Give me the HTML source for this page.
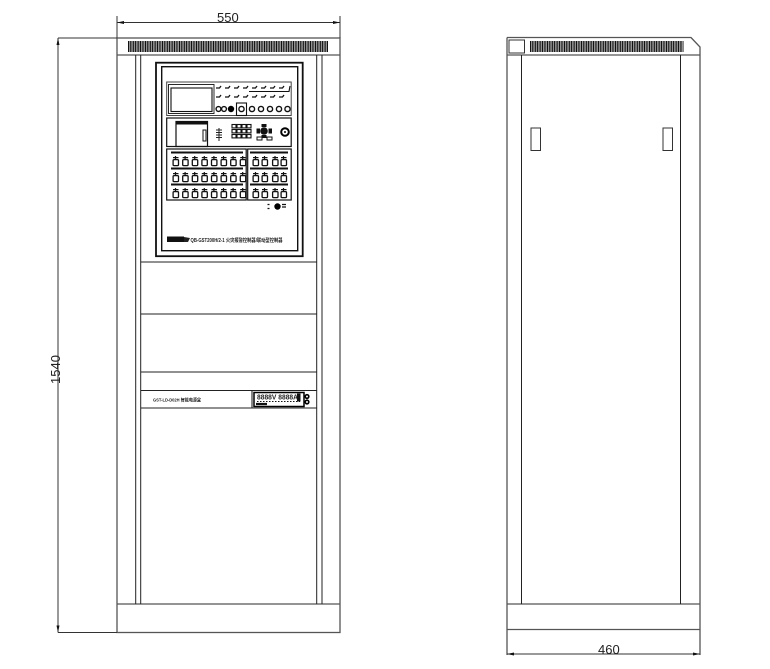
<!DOCTYPE html>
<html><head><meta charset="utf-8"><style>
html,body{margin:0;padding:0;background:#fff;width:770px;height:669px;overflow:hidden}
svg{display:block}
text{font-family:"Liberation Sans","Noto Sans CJK SC",sans-serif;fill:#222}
</style></head><body>
<svg width="770" height="669" viewBox="0 0 770 669" xmlns="http://www.w3.org/2000/svg">
<defs>
<g id="c" fill="none" stroke="#111" stroke-width="1.3"><rect x="0.6" y="3.6" width="5.4" height="6" rx="1"/><path d="M0.5 1.6H6M3 0V3" stroke-width="1.2"/></g>
<g id="r8"><use href="#c"/><use href="#c" x="9.6"/><use href="#c" x="19.2"/><use href="#c" x="28.8"/><use href="#c" x="38.4"/><use href="#c" x="48"/><use href="#c" x="57.6"/><use href="#c" x="67.2"/></g>
<g id="r4"><use href="#c"/><use href="#c" x="9"/><use href="#c" x="19.5"/><use href="#c" x="28"/></g>
<g id="t"><path d="M0 2H3.5L5 0" fill="none" stroke="#111" stroke-width="1.3"/></g>
<g id="k" fill="none" stroke="#111" stroke-width="1.1"><rect x="0" y="0" width="4" height="3.4"/><rect x="5" y="0" width="4" height="3.4"/><rect x="10" y="0" width="4" height="3.4"/><rect x="15" y="0" width="4" height="3.4"/></g>
</defs>

<g fill="none" stroke="#555" stroke-width="1">
<rect x="117" y="38" width="223" height="594.5" stroke-width="1.3"/>
<path d="M117 55H340M117 604H340" stroke-width="1.3"/>
<path d="M135.7 55V604M140.7 55V604M316.7 55V604M322 55V604" stroke="#222"/>
<path d="M140.7 262H316.7M140.7 314H316.7M140.7 372H316.7M140.7 390.5H316.7M140.7 408H316.7" stroke="#222"/>
<path d="M117 16V38M340 16V38M117 22.5H340M58 38H117M58 38V632.5M58 632.5H117" stroke="#333"/>
</g>
<path d="M117 22.5l7-1.5v3zM340 22.5l-7-1.5v3zM58 38l-1.5 7h3zM58 632.5l-1.5-7h3z" fill="#111"/>
<line x1="128" y1="46.5" x2="328" y2="46.5" stroke="#111" stroke-width="11" stroke-dasharray="1.15 0.55"/>
<text x="217" y="22" font-size="13" fill="#333">550</text>
<text transform="translate(60,384) rotate(-90)" font-size="13">1540</text>

<g fill="none" stroke="#111">
<rect x="156" y="62.7" width="146.7" height="193.5" stroke-width="1.8"/>
<rect x="161.7" y="66.7" width="136" height="184" stroke-width="1.4"/>
<rect x="166.7" y="82" width="124.5" height="33.5" stroke="#444"/>
<rect x="168.5" y="84.5" width="45.5" height="29" stroke-width="0.9"/>
<rect x="171" y="88" width="41" height="23.5" stroke-width="1.1"/>
<rect x="166.7" y="118" width="124.5" height="28.5" stroke-width="1.2"/>
<rect x="176" y="121.5" width="31.5" height="25" stroke-width="1.2"/>
<path d="M176 123H207.5" stroke-width="3"/>
<rect x="203" y="130" width="3" height="11" stroke-width="1"/>
<rect x="166.7" y="149" width="79.5" height="51" stroke-width="1.2"/>
<rect x="247.7" y="149" width="43.5" height="51" stroke-width="1.2"/>
<path d="M171 152.5H243M171 168.5H243M171 184.5H243M250 152.5H288M250 168.5H288M250 184.5H288" stroke-width="2"/>
</g>
<use href="#r8" x="172.5" y="156"/><use href="#r8" x="172.5" y="172"/><use href="#r8" x="172.5" y="188"/>
<use href="#r4" x="252.5" y="156"/><use href="#r4" x="252.5" y="172"/><use href="#r4" x="252.5" y="188"/>

<g>
<use href="#t" x="216" y="86"/><use href="#t" x="225" y="86"/><use href="#t" x="234" y="86"/><use href="#t" x="243" y="86"/>
<use href="#t" x="252" y="86"/><use href="#t" x="261" y="86"/><use href="#t" x="270" y="86"/><use href="#t" x="279" y="86"/>
<use href="#t" x="216" y="95"/><use href="#t" x="225" y="95"/><use href="#t" x="234" y="95"/><use href="#t" x="243" y="95"/>
<use href="#t" x="252" y="95"/><use href="#t" x="261" y="95"/><use href="#t" x="270" y="95"/><use href="#t" x="279" y="95"/>
</g>
<path d="M249 91.5H289L290 86" fill="none" stroke="#111" stroke-width="1.1"/>
<g fill="none" stroke="#111" stroke-width="1.4">
<circle cx="218.5" cy="109" r="2.4"/><circle cx="224" cy="109" r="2.4"/>
<circle cx="241.5" cy="109" r="2.6"/><rect x="236.5" y="103" width="10" height="12.5" stroke-width="1.1"/>
<circle cx="252" cy="109" r="2.6"/><circle cx="261" cy="109" r="2.6"/><circle cx="270" cy="109" r="2.6"/><circle cx="279" cy="109" r="2.6"/><circle cx="287.5" cy="109" r="2.6"/>
</g>
<circle cx="231" cy="109" r="3.2" fill="#000"/>

<path d="M219 128V141M216 130H222M216 132.5H222M216 135H222M216 137.5H222" stroke="#222" fill="none"/>
<use href="#k" x="232" y="124.5"/><use href="#k" x="232" y="129.5"/><use href="#k" x="232" y="134.5"/>
<circle cx="264" cy="131" r="3.8" fill="#111"/>
<g fill="#111"><rect x="256.5" y="128.5" width="3.5" height="5"/><rect x="268.5" y="128.5" width="3.5" height="5"/><rect x="261.5" y="124" width="5" height="3"/><rect x="261.5" y="135" width="5" height="3"/></g>
<rect x="257" y="137" width="5" height="3" fill="none" stroke="#111"/><rect x="267" y="137" width="5" height="3" fill="none" stroke="#111"/>
<circle cx="285" cy="132" r="3.8" fill="none" stroke="#000" stroke-width="2"/><circle cx="285" cy="132" r="1" fill="#000"/>

<circle cx="277.5" cy="206.5" r="3.2" fill="#000"/>
<path d="M267.5 204.5h2M267.5 208.5h2M282 204.5h4M282 207h4" stroke="#111" stroke-width="1.3" fill="none"/>

<rect x="167" y="236.5" width="17" height="5.5" fill="#111"/>
<path d="M184 237l6 1-2 4h-4z" fill="#222"/>
<text x="190.5" y="241.8" font-size="5.2" font-weight="bold" textLength="92" lengthAdjust="spacingAndGlyphs" fill="#222">QB-GST200H/2-1 火灾报警控制器/联动型控制器</text>

<text x="153" y="401.5" font-size="4.8" font-weight="bold" textLength="48" lengthAdjust="spacingAndGlyphs" fill="#333">GST-LD-D02H 智能电源盒</text>
<path d="M252 390.5V408" stroke="#111" fill="none"/>
<rect x="254" y="392.5" width="50" height="14" fill="none" stroke="#000" stroke-width="1.5"/>
<text x="257" y="399.5" font-size="7" font-weight="bold" textLength="41" lengthAdjust="spacingAndGlyphs" fill="#111">8888V 8888A</text>
<rect x="297" y="393.5" width="3.5" height="8" fill="#111"/>
<path d="M256 404H267" stroke="#111" stroke-width="2.2" fill="none"/>
<path d="M257 401.5H300" stroke="#111" stroke-width="1" stroke-dasharray="1.5 1.5" fill="none"/>
<circle cx="307" cy="396.5" r="1.8" fill="none" stroke="#000" stroke-width="1.6"/>
<circle cx="307" cy="402" r="1.8" fill="none" stroke="#000" stroke-width="1.6"/>

<g fill="none" stroke="#555" stroke-width="1.3">
<path d="M507 37.5H691L700 47V655M507 37.5V655"/>
<path d="M507 55H700M507 604H700M507 629.5H700" />
<path d="M521.5 55V604M680.5 55V604" stroke="#222" stroke-width="1"/>
<rect x="509" y="40" width="15.5" height="13" stroke="#333" stroke-width="1"/>
<rect x="531" y="128" width="9.5" height="22.5" stroke="#333" stroke-width="1"/>
<rect x="663" y="128" width="9.5" height="22.5" stroke="#333" stroke-width="1"/>
<path d="M507 654H700" stroke="#333" stroke-width="1"/>
</g>
<path d="M507 654l7-1.5v3zM700 654l-7-1.5v3z" fill="#111"/>
<line x1="530" y1="46.5" x2="683.5" y2="46.5" stroke="#111" stroke-width="11" stroke-dasharray="1.15 0.55"/>
<text x="598" y="654" font-size="13">460</text>
</svg>
</body></html>
